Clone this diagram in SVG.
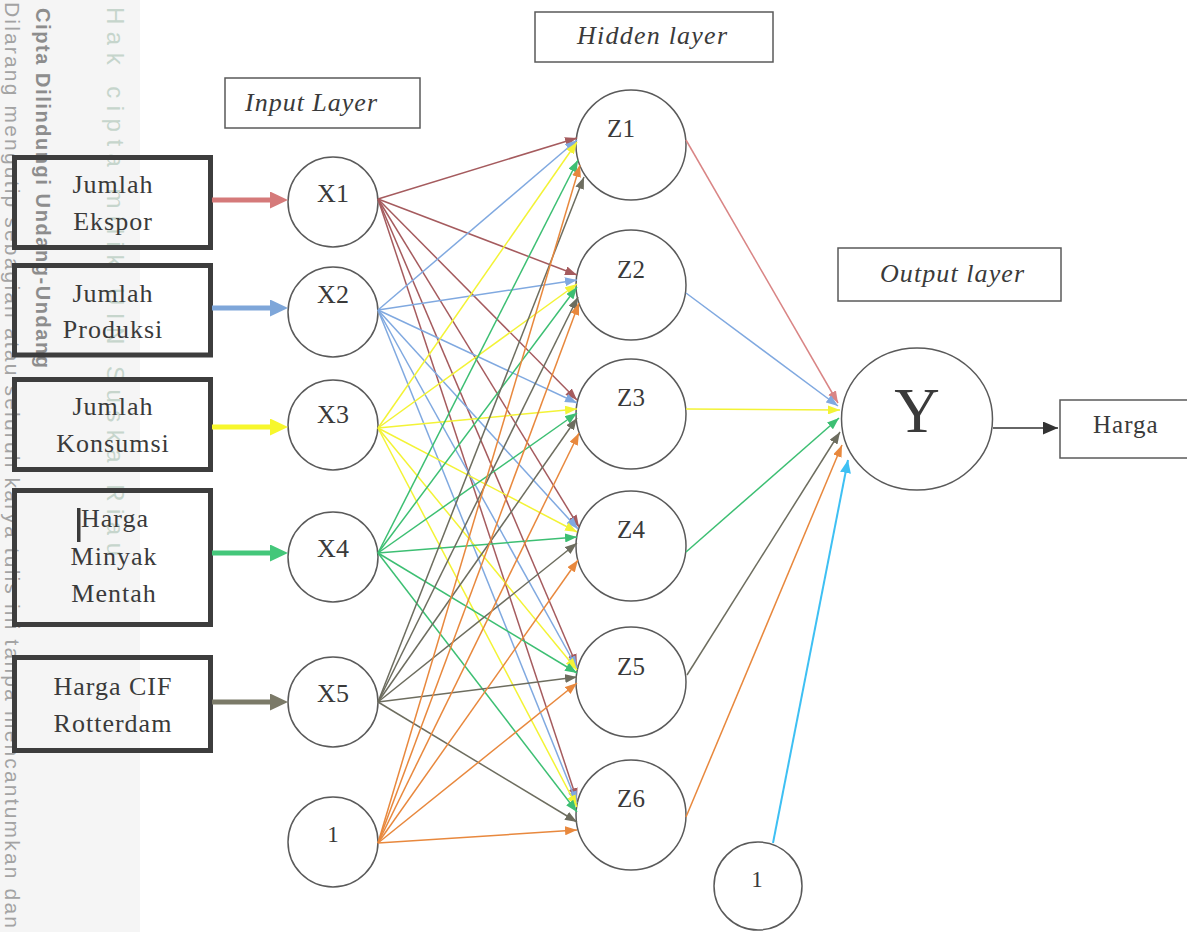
<svg xmlns="http://www.w3.org/2000/svg" width="1187" height="932" viewBox="0 0 1187 932">
<style>
.band{fill:#f5f5f5}
.in{fill:none;stroke:#3d3d3d;stroke-width:5}
.lb{fill:#fff;stroke:#5a5a5a;stroke-width:1.5}
.nd{fill:#fff;stroke:#5a5a5a;stroke-width:1.5}
.t{font-family:"Liberation Serif","Times New Roman",serif;fill:#3a3a3a;text-anchor:middle}
.tb{font-size:26px;letter-spacing:1px}
.ti{font-size:26px;font-style:italic;text-anchor:start}
.tx{font-size:26px}
.tz{font-size:25px}
.w{font-family:"Liberation Sans",Arial,sans-serif}
.w1{font-size:21px;fill:#a3a3a3}
.w2{font-size:20px;font-weight:bold;fill:#8d8d8d}
.w3{font-size:24px;fill:#c6d5cc}
.c{fill:none;stroke-width:1.5}
.k{fill:none;stroke-width:5}
.r{stroke:#a55b5e;marker-end:url(#mr)}
.b{stroke:#80a9e0;marker-end:url(#mb)}
.y{stroke:#f3f336;marker-end:url(#my)}
.g{stroke:#3dbf73;marker-end:url(#mg)}
.s{stroke:#6d6d5f;marker-end:url(#ms)}
.o{stroke:#e8883d;marker-end:url(#mo)}
.rl{stroke:#d98585;marker-end:url(#mrl)}
.cy{stroke:#3ec0f3;stroke-width:2;marker-end:url(#mc)}
.dk{stroke:#333;marker-end:url(#md)}
.kr{stroke:#d57a7a;marker-end:url(#kr)}
.kb{stroke:#7ea6d9;marker-end:url(#kb)}
.ky{stroke:#f7f72c;marker-end:url(#ky)}
.kg{stroke:#44c77a;marker-end:url(#kg)}
.ks{stroke:#7b7a68;marker-end:url(#ks)}
</style>
<defs>
<marker id="mr" markerUnits="userSpaceOnUse" markerWidth="12" markerHeight="9" refX="12" refY="4.5" orient="auto"><path d="M0,0 L12,4.5 L0,9 z" fill="#a55b5e"/></marker>
<marker id="mb" markerUnits="userSpaceOnUse" markerWidth="12" markerHeight="9" refX="12" refY="4.5" orient="auto"><path d="M0,0 L12,4.5 L0,9 z" fill="#80a9e0"/></marker>
<marker id="my" markerUnits="userSpaceOnUse" markerWidth="12" markerHeight="9" refX="12" refY="4.5" orient="auto"><path d="M0,0 L12,4.5 L0,9 z" fill="#f3f336"/></marker>
<marker id="mg" markerUnits="userSpaceOnUse" markerWidth="12" markerHeight="9" refX="12" refY="4.5" orient="auto"><path d="M0,0 L12,4.5 L0,9 z" fill="#3dbf73"/></marker>
<marker id="ms" markerUnits="userSpaceOnUse" markerWidth="12" markerHeight="9" refX="12" refY="4.5" orient="auto"><path d="M0,0 L12,4.5 L0,9 z" fill="#6d6d5f"/></marker>
<marker id="mo" markerUnits="userSpaceOnUse" markerWidth="12" markerHeight="9" refX="12" refY="4.5" orient="auto"><path d="M0,0 L12,4.5 L0,9 z" fill="#e8883d"/></marker>
<marker id="mrl" markerUnits="userSpaceOnUse" markerWidth="12" markerHeight="9" refX="12" refY="4.5" orient="auto"><path d="M0,0 L12,4.5 L0,9 z" fill="#d98585"/></marker>
<marker id="mc" markerUnits="userSpaceOnUse" markerWidth="13" markerHeight="11" refX="13" refY="5.5" orient="auto"><path d="M0,0 L13,5.5 L0,11 z" fill="#3ec0f3"/></marker>
<marker id="md" markerUnits="userSpaceOnUse" markerWidth="15" markerHeight="13" refX="15" refY="6.5" orient="auto"><path d="M0,0 L15,6.5 L0,13 z" fill="#333"/></marker>
<marker id="kr" markerUnits="userSpaceOnUse" markerWidth="18" markerHeight="17" refX="6" refY="8.5" orient="auto"><path d="M0,0 L18,8.5 L0,17 z" fill="#d57a7a"/></marker>
<marker id="kb" markerUnits="userSpaceOnUse" markerWidth="18" markerHeight="17" refX="6" refY="8.5" orient="auto"><path d="M0,0 L18,8.5 L0,17 z" fill="#7ea6d9"/></marker>
<marker id="ky" markerUnits="userSpaceOnUse" markerWidth="18" markerHeight="17" refX="6" refY="8.5" orient="auto"><path d="M0,0 L18,8.5 L0,17 z" fill="#f7f72c"/></marker>
<marker id="kg" markerUnits="userSpaceOnUse" markerWidth="18" markerHeight="17" refX="6" refY="8.5" orient="auto"><path d="M0,0 L18,8.5 L0,17 z" fill="#44c77a"/></marker>
<marker id="ks" markerUnits="userSpaceOnUse" markerWidth="18" markerHeight="17" refX="6" refY="8.5" orient="auto"><path d="M0,0 L18,8.5 L0,17 z" fill="#7b7a68"/></marker>
</defs>
<rect width="1187" height="932" fill="#fff"/>
<rect class="band" x="0" y="0" width="140" height="932"/>
<g id="watermark">
<text class="w w1" transform="translate(5,2) rotate(90)" textLength="926" lengthAdjust="spacing">Dilarang mengutip sebagian atau seluruh karya tulis ini tanpa mencantumkan dan</text>
<text class="w w2" transform="translate(36,8) rotate(90)" textLength="360" lengthAdjust="spacing">Cipta Dilindungi Undang-Undang</text>
<text class="w w3" transform="translate(107,7) rotate(90)" textLength="549" lengthAdjust="spacing">Hak cipta milik UIN Suska Riau</text>
</g>
<g id="label-input">
<rect class="lb" x="225" y="78" width="195" height="50"/>
<text class="t ti" x="245" y="111" textLength="132" lengthAdjust="spacing">Input Layer</text>
</g>
<g id="label-hidden">
<rect class="lb" x="535" y="12" width="238" height="50"/>
<text class="t ti" x="577" y="44" textLength="150" lengthAdjust="spacing">Hidden layer</text>
</g>
<g id="label-output">
<rect class="lb" x="838" y="248" width="223" height="53"/>
<text class="t ti" x="880" y="282" textLength="144" lengthAdjust="spacing">Output layer</text>
</g>
<g id="in-ekspor">
<rect class="in" x="14.5" y="157.5" width="196" height="90"/>
<text class="t tb" x="113" y="193">Jumlah</text>
<text class="t tb" x="113" y="230">Ekspor</text>
</g>
<g id="in-produksi">
<rect class="in" x="14.5" y="265.5" width="196" height="89.5"/>
<text class="t tb" x="113" y="302">Jumlah</text>
<text class="t tb" x="113" y="338">Produksi</text>
</g>
<g id="in-konsumsi">
<rect class="in" x="14.5" y="379.5" width="196" height="90"/>
<text class="t tb" x="113" y="415">Jumlah</text>
<text class="t tb" x="113" y="452">Konsumsi</text>
</g>
<g id="in-minyak">
<rect class="in" x="14.5" y="490.5" width="196" height="134"/>
<rect x="77" y="508" width="3.5" height="34" fill="#3a3a3a"/>
<text class="t tb" x="115" y="527">Harga</text>
<text class="t tb" x="114" y="565">Minyak</text>
<text class="t tb" x="114" y="602">Mentah</text>
</g>
<g id="in-cif">
<rect class="in" x="14.5" y="657.5" width="196" height="93"/>
<text class="t tb" x="113" y="695">Harga CIF</text>
<text class="t tb" x="113" y="732">Rotterdam</text>
</g>
<g id="X1"><circle class="nd" cx="333" cy="202" r="45"/><text class="t tx" x="333" y="202">X1</text></g>
<g id="X2"><circle class="nd" cx="333" cy="312" r="45"/><text class="t tx" x="333" y="303">X2</text></g>
<g id="X3"><circle class="nd" cx="333" cy="425" r="45"/><text class="t tx" x="333" y="423">X3</text></g>
<g id="X4"><circle class="nd" cx="333" cy="557" r="45"/><text class="t tx" x="333" y="557">X4</text></g>
<g id="X5"><circle class="nd" cx="333" cy="702" r="45"/><text class="t tx" x="333" y="702">X5</text></g>
<g id="B1"><circle class="nd" cx="333" cy="842" r="45"/><text class="t tz" x="333" y="842" style="font-size:23px">1</text></g>
<g id="Z1"><circle class="nd" cx="631" cy="145" r="55"/><text class="t tz" x="621" y="137">Z1</text></g>
<g id="Z2"><circle class="nd" cx="631" cy="285" r="55"/><text class="t tz" x="631" y="278">Z2</text></g>
<g id="Z3"><circle class="nd" cx="631" cy="414" r="55"/><text class="t tz" x="631" y="406">Z3</text></g>
<g id="Z4"><circle class="nd" cx="631" cy="546" r="55"/><text class="t tz" x="631" y="538">Z4</text></g>
<g id="Z5"><circle class="nd" cx="631" cy="682" r="55"/><text class="t tz" x="631" y="675">Z5</text></g>
<g id="Z6"><circle class="nd" cx="631" cy="815" r="55"/><text class="t tz" x="631" y="807">Z6</text></g>
<g id="B2"><circle class="nd" cx="758" cy="886" r="44"/><text class="t tz" x="757" y="887" style="font-size:23px">1</text></g>
<g id="Y"><ellipse class="nd" cx="917" cy="419" rx="75.5" ry="71"/><text class="t" x="917" y="432" style="font-size:63px">Y</text></g>
<g id="harga"><rect class="lb" x="1060" y="400" width="140" height="58"/><text class="t" x="1093" y="433" style="font-size:25px;letter-spacing:1px;text-anchor:start">Harga</text></g>
<g id="connectors">
<line class="k kr" x1="212" y1="200" x2="276" y2="200"/>
<line class="k kb" x1="212" y1="308" x2="276" y2="308"/>
<line class="k ky" x1="212" y1="427" x2="276" y2="427"/>
<line class="k kg" x1="212" y1="553" x2="276" y2="553"/>
<line class="k ks" x1="212" y1="702" x2="276" y2="702"/>
<line class="c r" x1="378" y1="199" x2="577" y2="138"/>
<line class="c r" x1="378" y1="199" x2="577" y2="275"/>
<line class="c r" x1="378" y1="199" x2="577" y2="400"/>
<line class="c r" x1="378" y1="199" x2="579" y2="527"/>
<line class="c r" x1="378" y1="199" x2="577" y2="666"/>
<line class="c r" x1="378" y1="199" x2="577" y2="800"/>
<line class="c b" x1="378" y1="310" x2="577" y2="140"/>
<line class="c b" x1="378" y1="310" x2="577" y2="280"/>
<line class="c b" x1="378" y1="310" x2="577" y2="403"/>
<line class="c b" x1="378" y1="310" x2="578" y2="529"/>
<line class="c b" x1="378" y1="310" x2="577" y2="668"/>
<line class="c b" x1="378" y1="310" x2="577" y2="803"/>
<line class="c y" x1="378" y1="428" x2="577" y2="142"/>
<line class="c y" x1="378" y1="428" x2="577" y2="284"/>
<line class="c y" x1="378" y1="428" x2="577" y2="409"/>
<line class="c y" x1="378" y1="428" x2="577" y2="532"/>
<line class="c y" x1="378" y1="428" x2="577" y2="670"/>
<line class="c y" x1="378" y1="428" x2="577" y2="807"/>
<line class="c g" x1="378" y1="553" x2="578" y2="160"/>
<line class="c g" x1="378" y1="553" x2="577" y2="287"/>
<line class="c g" x1="378" y1="553" x2="577" y2="413"/>
<line class="c g" x1="378" y1="553" x2="577" y2="537"/>
<line class="c g" x1="378" y1="553" x2="577" y2="673"/>
<line class="c g" x1="378" y1="553" x2="577" y2="812"/>
<line class="c s" x1="378" y1="702" x2="584" y2="177"/>
<line class="c s" x1="378" y1="702" x2="578" y2="297"/>
<line class="c s" x1="378" y1="702" x2="577" y2="418"/>
<line class="c s" x1="378" y1="702" x2="577" y2="543"/>
<line class="c s" x1="378" y1="702" x2="577" y2="677"/>
<line class="c s" x1="378" y1="702" x2="577" y2="822"/>
<line class="c o" x1="378" y1="843" x2="580" y2="165"/>
<line class="c o" x1="378" y1="843" x2="579" y2="303"/>
<line class="c o" x1="378" y1="843" x2="579" y2="433"/>
<line class="c o" x1="378" y1="843" x2="578" y2="560"/>
<line class="c o" x1="378" y1="843" x2="577" y2="683"/>
<line class="c o" x1="378" y1="843" x2="577" y2="830"/>
<line class="c rl" x1="686" y1="140" x2="838" y2="403"/>
<line class="c b" x1="686" y1="293" x2="838" y2="406"/>
<line class="c y" x1="686" y1="409" x2="840" y2="410"/>
<line class="c g" x1="686" y1="552" x2="839" y2="418"/>
<line class="c s" x1="687" y1="675" x2="840" y2="432"/>
<line class="c o" x1="686" y1="817" x2="842" y2="445"/>
<line class="c cy" x1="773" y1="843" x2="848" y2="460"/>
<line class="c dk" x1="993" y1="428" x2="1058" y2="428"/>
</g>
</svg>
